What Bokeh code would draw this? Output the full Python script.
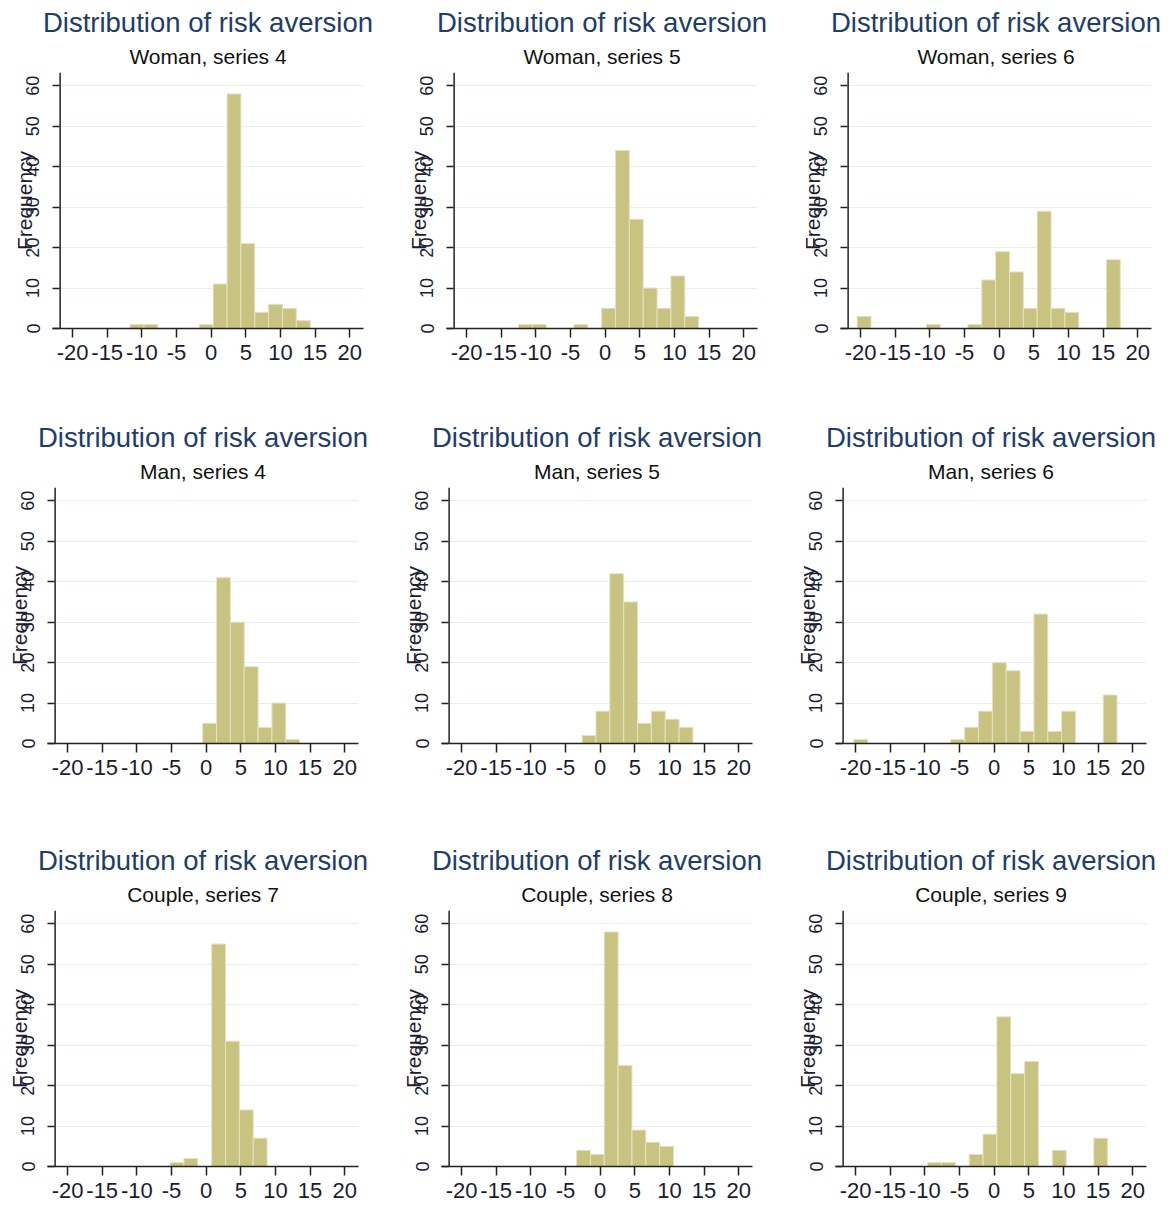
from bokeh.plotting import figure
from bokeh.models import Range1d, Title, FixedTicker, Span
from bokeh.layouts import column, row
from bokeh.embed import file_html
from bokeh.resources import INLINE

MAIN_TITLE = "Distribution of risk aversion"
Y_LABEL = "Frequency"
BIN_WIDTH = 2.0
x_ticks = [-20, -15, -10, -5, 0, 5, 10, 15, 20]
y_ticks = [0, 10, 20, 30, 40, 50, 60]
X_START, X_END = -22.9, 22.0     # x-axis line extent
Y_AXIS_AT = -21.8                # where the y-axis line crosses
Y_END = 63.3

subtitles = [
    "Woman, series 4", "Woman, series 5", "Woman, series 6",
    "Man, series 4", "Man, series 5", "Man, series 6",
    "Couple, series 7", "Couple, series 8", "Couple, series 9",
]

# left edge of each non-empty bin, and its frequency
woman4_edges = [-11.7, -9.7, -1.7, 0.3, 2.3, 4.3, 6.3, 8.3, 10.3, 12.3]
woman4_counts = [1, 1, 1, 11, 58, 21, 4, 6, 5, 2]
woman5_edges = [-12.5, -10.5, -4.5, -0.5, 1.5, 3.5, 5.5, 7.5, 9.5, 11.5]
woman5_counts = [1, 1, 1, 5, 44, 27, 10, 5, 13, 3]
woman6_edges = [-20.5, -10.5, -4.5, -2.5, -0.5, 1.5, 3.5, 5.5, 7.5, 9.5, 15.5]
woman6_counts = [3, 1, 1, 12, 19, 14, 5, 29, 5, 4, 17]
man4_edges = [-0.5, 1.5, 3.5, 5.5, 7.5, 9.5, 11.5]
man4_counts = [5, 41, 30, 19, 4, 10, 1]
man5_edges = [-2.6, -0.6, 1.4, 3.4, 5.4, 7.4, 9.4, 11.4]
man5_counts = [2, 8, 42, 35, 5, 8, 6, 4]
man6_edges = [-20.25, -6.25, -4.25, -2.25, -0.25, 1.75, 3.75, 5.75, 7.75, 9.75, 15.75]
man6_counts = [1, 1, 4, 8, 20, 18, 3, 32, 3, 8, 12]
couple7_edges = [-5.2, -3.2, 0.8, 2.8, 4.8, 6.8]
couple7_counts = [1, 2, 55, 31, 14, 7]
couple8_edges = [-3.4, -1.4, 0.6, 2.6, 4.6, 6.6, 8.6]
couple8_counts = [4, 3, 58, 25, 9, 6, 5]
couple9_edges = [-9.6, -7.6, -3.6, -1.6, 0.4, 2.4, 4.4, 8.4, 14.4]
couple9_counts = [1, 1, 3, 8, 37, 23, 26, 4, 7]

panels = [
    (woman4_edges, woman4_counts), (woman5_edges, woman5_counts), (woman6_edges, woman6_counts),
    (man4_edges, man4_counts), (man5_edges, man5_counts), (man6_edges, man6_counts),
    (couple7_edges, couple7_counts), (couple8_edges, couple8_counts), (couple9_edges, couple9_counts),
]

FONT = "Liberation Sans"
FILL = "#c9c382"
EDGE = "#e6e2c2"
AXIS_COLOR = "#222222"


def make_panel(idx, edges, counts):
    r, c = divmod(idx, 3)
    left_border = 52 if r == 0 else 47
    right_border = [31, 31, 21][c] + (0 if r == 0 else 5)
    bottom_border = [87, 95, 38][r]
    p = figure(
        frame_width=311, frame_height=256,
        min_border_left=left_border, min_border_right=right_border,
        min_border_top=72, min_border_bottom=bottom_border,
        x_range=Range1d(X_START, X_END), y_range=Range1d(0, Y_END),
        title=MAIN_TITLE, toolbar_location=None, output_backend="svg",
        background_fill_color="white", border_fill_color="white",
    )
    p.title.align = "center"
    p.title.text_font = FONT
    p.title.text_font_size = "27.5px"
    p.title.text_font_style = "normal"
    p.title.text_color = "#1f3d6b"
    p.title.standoff = 0
    p.add_layout(Title(text=subtitles[idx], align="center", text_font=FONT,
                       text_font_size="21px", text_font_style="normal",
                       text_color="#111111", standoff=10), "above")

    rights = [e + BIN_WIDTH for e in edges]
    p.quad(left=edges, right=rights, bottom=0, top=counts,
           fill_color=FILL, line_color=EDGE, line_width=1)

    p.outline_line_color = None
    p.xgrid.visible = False
    p.ygrid.ticker = FixedTicker(ticks=y_ticks[1:])
    p.ygrid.grid_line_color = "#e5eef1"
    p.ygrid.grid_line_width = 1

    # y-axis line sits slightly inside the frame, as in the original
    p.add_layout(Span(location=Y_AXIS_AT, dimension="height",
                      line_color=AXIS_COLOR, line_width=1.5))

    p.xaxis.ticker = FixedTicker(ticks=x_ticks)
    p.yaxis.ticker = FixedTicker(ticks=y_ticks)
    p.xaxis.major_label_overrides = {t: str(t) for t in x_ticks}
    p.yaxis.major_label_overrides = {t: str(t) for t in y_ticks}
    for ax in (p.xaxis[0], p.yaxis[0]):
        ax.axis_line_color = AXIS_COLOR
        ax.axis_line_width = 1.5
        ax.major_tick_line_color = AXIS_COLOR
        ax.major_tick_line_width = 1.5
        ax.minor_tick_line_color = None
        ax.major_label_text_font = FONT
        ax.major_label_text_color = "#1c1c30"
    p.xaxis.major_tick_in = 0
    p.xaxis.major_tick_out = 9
    p.xaxis.major_label_standoff = 7
    p.xaxis.major_label_text_font_size = "22px"
    p.yaxis.axis_line_color = None
    p.yaxis.major_tick_in = 7
    p.yaxis.major_tick_out = 0
    p.yaxis.major_label_standoff = 13
    p.yaxis.major_label_text_font_size = "18px"
    p.yaxis.major_label_orientation = "vertical"
    p.yaxis.axis_label = Y_LABEL
    p.yaxis.axis_label_text_font = FONT
    p.yaxis.axis_label_text_font_size = "21px"
    p.yaxis.axis_label_text_font_style = "normal"
    p.yaxis.axis_label_text_color = "#1c1c30"
    p.yaxis.axis_label_standoff = -12
    return p


figs = [make_panel(i, e, c) for i, (e, c) in enumerate(panels)]
layout = column(row(*figs[0:3]), row(*figs[3:6]), row(*figs[6:9]))

open("out.html", "w").write(file_html(layout, INLINE))
